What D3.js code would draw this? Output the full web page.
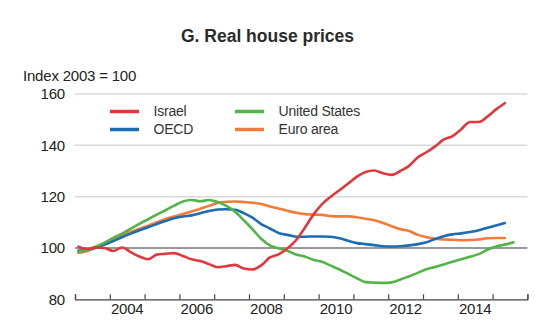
<!DOCTYPE html>
<html>
<head>
<meta charset="utf-8">
<script src="https://cdn.jsdelivr.net/npm/d3@7"></script>
<style>
  html, body { margin: 0; padding: 0; background: #fff; }
  svg { display: block; font-family: "Liberation Sans", Arial, sans-serif; }
</style>
</head>
<body>
<svg id="chart" width="550" height="331"></svg>
<script>
// Quarterly observations, starting early 2003
const startYear = 2003.1;
const step = 0.25;
const israel = [100.5, 99.6, 100.2, 100.0, 98.8, 100.2, 98.4, 96.7, 95.6, 97.4,
  97.7, 98.0, 96.9, 95.6, 94.9, 93.7, 92.5, 92.9, 93.4, 92.0,
  91.6, 93.2, 96.3, 97.5, 99.8, 103.0, 107.8, 113.0, 117.1, 120.0,
  122.5, 125.1, 127.8, 129.6, 130.2, 129.1, 128.5, 130.0, 132.0, 135.3,
  137.3, 139.6, 142.3, 143.6, 146.3, 149.1, 149.1, 151.2, 154.0, 156.4];
const oecd = [99.0, 99.3, 100.1, 101.3, 102.7, 104.2, 105.6, 106.9, 108.1, 109.3,
  110.5, 111.6, 112.3, 112.7, 113.5, 114.4, 115.0, 115.1, 114.9, 113.6,
  111.8, 109.3, 107.6, 105.8, 105.1, 104.4, 104.4, 104.5, 104.5, 104.4,
  103.8, 102.8, 101.9, 101.5, 101.1, 100.7, 100.6, 100.7, 101.0, 101.5,
  102.2, 103.5, 104.6, 105.3, 105.7, 106.2, 106.9, 107.9, 108.8, 109.7];
const unitedStates = [98.5, 99.2, 100.6, 102.1, 103.9, 105.6, 107.5, 109.4, 111.2, 113.0,
  114.7, 116.5, 118.1, 118.7, 118.2, 118.7, 117.9, 116.4, 114.1, 110.8,
  107.3, 103.6, 101.0, 99.9, 98.9, 97.5, 96.7, 95.4, 94.6, 93.1,
  91.6, 89.9, 88.2, 86.7, 86.5, 86.4, 86.6, 87.7, 89.0, 90.3,
  91.7, 92.6, 93.6, 94.6, 95.6, 96.6, 97.6, 99.3, 100.6, 101.3, 102.2];
const euroArea = [98.1, 98.8, 100.2, 101.7, 103.3, 104.8, 106.2, 107.5, 108.7, 110.0,
  111.3, 112.3, 113.2, 114.2, 115.3, 116.4, 117.6, 118.0, 118.1, 117.9,
  117.6, 117.1, 116.2, 115.4, 114.5, 113.7, 113.2, 113.0, 112.9, 112.4,
  112.3, 112.3, 112.0, 111.4, 110.8, 109.7, 108.5, 107.3, 106.6, 105.1,
  104.2, 103.6, 103.3, 103.2, 103.0, 103.1, 103.3, 103.8, 103.9, 103.9];

const yTicks = [80, 100, 120, 140, 160];
const xTickYears = d3.range(2003, 2017);
const xLabelYears = [2004, 2006, 2008, 2010, 2012, 2014];

const series = [
  { name: "Israel", values: israel, color: "#e2383c" },
  { name: "OECD", values: oecd, color: "#1b6cb2" },
  { name: "United States", values: unitedStates, color: "#52b548" },
  { name: "Euro area", values: euroArea, color: "#f27b3a" }
];

const svg = d3.select("#chart");
const x = d3.scaleLinear().domain([2003, 2016]).range([75, 527.4]);
const y = d3.scaleLinear().domain([80, 160]).range([299.3, 94]);

// Title
svg.append("text").attr("x", 267.5).attr("y", 42).attr("text-anchor", "middle")
  .attr("font-size", 17.5).attr("font-weight", "bold").attr("fill", "#2b2b2b")
  .text("G. Real house prices");
svg.append("text").attr("x", 23).attr("y", 81).attr("font-size", 15).attr("fill", "#222")
  .attr("letter-spacing", -0.2)
  .text("Index 2003 = 100");

// Gridlines
svg.append("g").selectAll("line").data(yTicks.filter(d => d > 100)).join("line")
  .attr("x1", x(2003)).attr("x2", x(2016))
  .attr("y1", d => y(d)).attr("y2", d => y(d))
  .attr("stroke", "#d9d9d9").attr("stroke-width", 1.5);

// Reference line at 100
svg.append("line").attr("x1", x(2003)).attr("x2", x(2016))
  .attr("y1", y(100)).attr("y2", y(100)).attr("stroke", "#333").attr("stroke-width", 1.2);

// Y labels
svg.append("g").selectAll("text").data(yTicks).join("text")
  .attr("x", 65).attr("y", d => y(d)).attr("dy", "0.35em")
  .attr("text-anchor", "end").attr("font-size", 15).attr("fill", "#222")
  .attr("letter-spacing", -0.2)
  .text(d => d);

// X axis with upward ticks
const xAxis = d3.axisBottom(x).tickValues(xTickYears).tickSize(-5).tickFormat("");
const gx = svg.append("g").attr("transform", `translate(0,${y(80)})`).call(xAxis);
gx.select(".domain").attr("stroke", "#444").attr("stroke-width", 1.2);
gx.selectAll(".tick line").attr("stroke", "#444").attr("stroke-width", 1.2);

svg.append("g").selectAll("text").data(xLabelYears).join("text")
  .attr("x", d => x(d + 0.5)).attr("y", 314).attr("text-anchor", "middle")
  .attr("font-size", 15).attr("fill", "#222").attr("letter-spacing", -0.2)
  .text(d => d);

// Lines
const line = d3.line().x((d, i) => x(startYear + i * step)).y(d => y(d)).curve(d3.curveMonotoneX);
const order = ["Euro area", "OECD", "United States", "Israel"];
svg.append("g").selectAll("path").data(order.map(n => series.find(s => s.name === n))).join("path")
  .attr("d", s => line(s.values))
  .attr("fill", "none").attr("stroke", s => s.color).attr("stroke-width", 2.6)
  .attr("stroke-linejoin", "round").attr("stroke-linecap", "round");

// Legend
const legendPos = [
  { lx: 110, ly: 111.5 }, { lx: 110, ly: 129.5 },
  { lx: 235, ly: 111.5 }, { lx: 235, ly: 129.5 }
];
const lg = svg.append("g").selectAll("g").data(series).join("g")
  .attr("transform", (d, i) => `translate(${legendPos[i].lx},${legendPos[i].ly})`);
lg.append("line").attr("x1", 0).attr("x2", 29).attr("stroke", d => d.color).attr("stroke-width", 3.5);
lg.append("text").attr("x", 43.5).attr("dy", "0.35em").attr("font-size", 14).attr("fill", "#333")
  .attr("letter-spacing", -0.2)
  .text(d => d.name);
</script>
</body>
</html>
